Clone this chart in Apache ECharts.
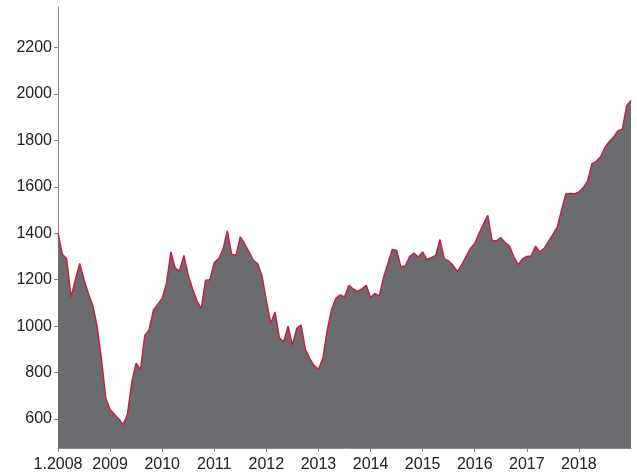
<!DOCTYPE html>
<html>
<head>
<meta charset="utf-8">
<style>
  html, body { margin: 0; padding: 0; background: #fff; }
  #chart { width: 637px; height: 474px; }
</style>
<script src="https://cdn.jsdelivr.net/npm/echarts@6/dist/echarts.min.js"></script>
</head>
<body>
<div id="chart"></div>
<script>
// Monthly index values, January 2008 through January 2019
const values = [
  1401, 1310, 1290, 1125, 1200, 1270, 1200, 1140, 1090, 1000, 860, 690,
  640, 620, 600, 575, 620, 760, 840, 812, 960, 985, 1070, 1095,
  1120, 1185, 1320, 1250, 1238, 1305, 1220, 1160, 1110, 1075, 1198, 1200,
  1275, 1290, 1330, 1410, 1310, 1305, 1385, 1355, 1320, 1284, 1270, 1215,
  1110, 1012, 1061, 950, 932, 1000, 918, 990, 1004, 900, 860, 830,
  814, 860, 980, 1070, 1120, 1135, 1126, 1176, 1160, 1150, 1160, 1176,
  1123, 1141, 1129, 1210, 1270, 1330, 1327, 1255, 1260, 1300, 1315, 1298,
  1320, 1287, 1295, 1305, 1373, 1290, 1281, 1262, 1235, 1265, 1300, 1335,
  1356, 1400, 1440, 1477, 1370, 1367, 1381, 1360, 1345, 1300, 1265, 1290,
  1300, 1302, 1344, 1320, 1335, 1365, 1395, 1427, 1500, 1570, 1572, 1570,
  1578, 1597, 1625, 1700, 1710, 1730, 1770, 1795, 1815, 1842, 1848, 1950,
  1972
];

// Year tick positions (month index) and their labels
const yearTicks = [0, 12, 24, 36, 48, 60, 72, 84, 96, 108, 120];
const yearLabels = ['1.2008', '2009', '2010', '2011', '2012', '2013', '2014', '2015', '2016', '2017', '2018'];

// Value axis ticks
const valueTicks = [600, 800, 1000, 1200, 1400, 1600, 1800, 2000, 2200];

const points = values.map((v, i) => [i, v]);
const labelFont = { fontFamily: 'Liberation Sans, Arial, sans-serif', fontSize: 16, color: '#222' };

const chart = echarts.init(document.getElementById('chart'), null, { renderer: 'canvas' });
chart.setOption({
  animation: false,
  backgroundColor: '#ffffff',
  grid: { left: 58, right: 6, top: 7, bottom: 26, containLabel: false },
  xAxis: {
    type: 'value',
    min: 0,
    max: values.length - 1,
    axisLine: { show: true, lineStyle: { color: '#888', width: 1 } },
    axisTick: { show: true, length: 4, lineStyle: { color: '#888' }, customValues: yearTicks },
    axisLabel: Object.assign({
      margin: 9,
      customValues: yearTicks,
      formatter: v => yearLabels[yearTicks.indexOf(v)]
    }, labelFont),
    splitLine: { show: false }
  },
  yAxis: {
    type: 'value',
    min: 475,
    max: 2375,
    axisLine: { show: true, lineStyle: { color: '#888', width: 1 } },
    axisTick: { show: true, length: 4, lineStyle: { color: '#888' }, customValues: valueTicks },
    axisLabel: Object.assign({
      margin: 6,
      customValues: valueTicks,
      formatter: v => String(v)
    }, labelFont),
    splitLine: { show: false }
  },
  series: [{
    type: 'line',
    data: points,
    showSymbol: false,
    smooth: false,
    lineStyle: { color: '#c8203f', width: 1.5 },
    areaStyle: { color: '#6b6c70', opacity: 1 },
    z: 2
  }]
});
</script>
</body>
</html>
